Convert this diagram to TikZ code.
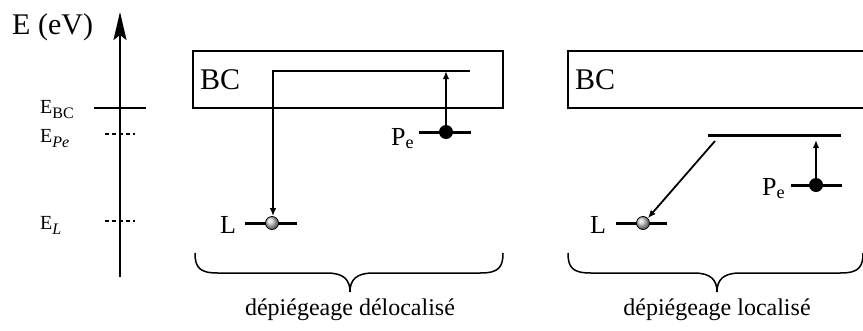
\documentclass[tikz,border=0pt]{standalone}
\usepackage{fontspec}
\setmainfont{Liberation Serif}
\usetikzlibrary{arrows.meta}
\newcommand{\lowsub}[1]{\raisebox{-0.28em}{\fontsize{16}{16}\selectfont #1}}
\begin{document}
\begin{tikzpicture}[x=1pt,y=-1pt,
  lvl/.style={line width=3pt},
  bandbox/.style={draw,line width=1.4pt},
  trans/.style={line width=1.8pt,-{Latex[length=8pt,width=6.5pt]}},
  axis/.style={line width=2pt,-{Stealth[length=28pt,width=13pt,inset=5pt]}},
  dashlvl/.style={line width=1.8pt,dash pattern=on 4pt off 3pt},
  brace/.style={line width=1.5pt},
  lbl/.style={inner sep=0pt,anchor=base west,font=\fontsize{26}{30}\selectfont},
  small/.style={inner sep=0pt,anchor=base west,font=\fontsize{20}{24}\selectfont},
  caption/.style={inner sep=0pt,anchor=base,font=\fontsize{24}{28}\selectfont},
  full/.style={circle,fill=black,inner sep=0pt,minimum size=14pt},
  empty/.style={circle,draw=black,line width=0.8pt,inner sep=0pt,minimum size=13pt,ball color=gray!40}
]
\useasboundingbox (0,0) rectangle (863,330);

% energy axis
\node[inner sep=0pt,anchor=base west,font=\fontsize{30}{34}\selectfont] (ev) at (12,34) {E (eV)};
\coordinate (axb) at (120,277);
\coordinate (axt) at (120,12);
\draw[axis] (axb) -- (axt);
\coordinate (bc1) at (94,108); \coordinate (bc2) at (146,108);
\draw[line width=2pt] (bc1) -- (bc2);
\coordinate (pe1) at (105,134); \coordinate (pe2) at (135,134);
\draw[dashlvl] (pe1) -- (pe2);
\coordinate (l1) at (105,221); \coordinate (l2) at (135,221);
\draw[dashlvl] (l1) -- (l2);
\node[small] (ebc) at (40,113) {E\lowsub{BC}};
\node[small] (epe) at (40,142) {E\lowsub{\textit{Pe}}};
\node[small] (el) at (40,229) {E\lowsub{\textit{L}}};

% left panel: delocalised
\draw[bandbox] (193,51) rectangle (503,108);
\node[inner sep=0pt,anchor=base west,font=\fontsize{30}{34}\selectfont] (bcA) at (200,89) {BC};
\coordinate (la1) at (245,223); \coordinate (la2) at (297,223);
\draw[lvl] (la1) -- (la2);
\node[empty] (LA) at (272,223) {};
\node[lbl] (labLA) at (220,233) {L};
\coordinate (pa1) at (419,132); \coordinate (pa2) at (471,132);
\draw[lvl] (pa1) -- (pa2);
\node[full] (PA) at (446,132) {};
\node[lbl] (labPA) at (391,145) {P\textsubscript{e}};
\coordinate (ca) at (470,71);
\coordinate (cb) at (273,71);
\draw[trans] (PA.north) -- (PA.north |- ca);
\draw[trans] (ca) -- (cb) -- (cb |- LA.north);
\draw[brace] (195,253) .. controls (195,268) and (200,273) .. (218,273) -- (327,273)
  .. controls (344,273) and (350,280) .. (350,292)
  .. controls (350,280) and (356,273) .. (373,273) -- (480,273)
  .. controls (498,273) and (503,268) .. (503,253);
\node[caption] (capA) at (350,315) {dépiégeage délocalisé};

% right panel: localised
\draw[bandbox] (568,51) rectangle (870,108);
\node[inner sep=0pt,anchor=base west,font=\fontsize{30}{34}\selectfont] (bcB) at (575,89) {BC};
\coordinate (lb1) at (616,223); \coordinate (lb2) at (667,223);
\draw[lvl] (lb1) -- (lb2);
\node[empty] (LB) at (643,223) {};
\node[lbl] (labLB) at (590,233) {L};
\coordinate (loc1) at (708,135); \coordinate (loc2) at (841,135);
\draw[lvl] (loc1) -- (loc2);
\coordinate (pb1) at (791,185); \coordinate (pb2) at (842,185);
\draw[lvl] (pb1) -- (pb2);
\node[full] (PB) at (816,185) {};
\node[lbl] (labPB) at (762,195) {P\textsubscript{e}};
\coordinate (locs) at (715,141);
\draw[trans] (PB.north) -- (816,140);
\draw[trans] (locs) -- (LB.north east);
\draw[brace] (568,253) .. controls (568,268) and (573,273) .. (591,273) -- (694,273)
  .. controls (711,273) and (717,280) .. (717,292)
  .. controls (717,280) and (723,273) .. (740,273) -- (840,273)
  .. controls (858,273) and (863,268) .. (863,253);
\node[caption] (capB) at (717,315) {dépiégeage localisé};
\end{tikzpicture}
\end{document}
